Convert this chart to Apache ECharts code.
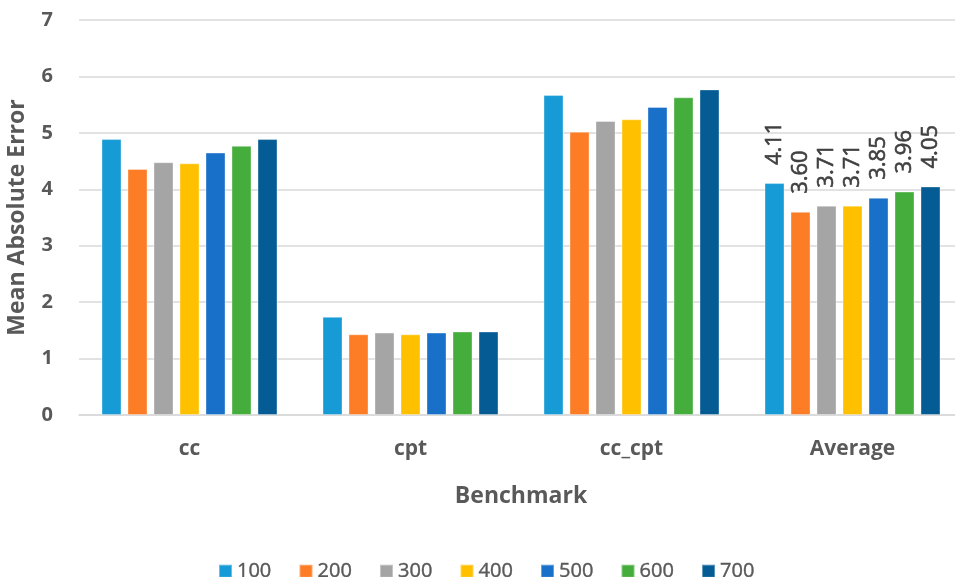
<!DOCTYPE html>
<html>
<head>
<meta charset="utf-8">
<script src="https://cdn.jsdelivr.net/npm/echarts@6/dist/echarts.min.js"></script>
<style>
  html, body { margin: 0; padding: 0; background: #ffffff; }
  #chart { width: 955px; height: 577px; }
</style>
</head>
<body>
<div id="chart"></div>
<script>
// Benchmarks on the x axis
const benchmarks = ['cc', 'cpt', 'cc_cpt', 'Average'];

// One series per setting
const seriesNames = ['100', '200', '300', '400', '500', '600', '700'];

// Mean absolute error per benchmark, one array per setting
const mae100 = [4.89, 1.74, 5.67, 4.11];
const mae200 = [4.36, 1.43, 5.02, 3.60];
const mae300 = [4.48, 1.46, 5.21, 3.71];
const mae400 = [4.46, 1.43, 5.24, 3.71];
const mae500 = [4.65, 1.46, 5.46, 3.85];
const mae600 = [4.77, 1.48, 5.63, 3.96];
const mae700 = [4.89, 1.48, 5.77, 4.05];

const seriesValues = [mae100, mae200, mae300, mae400, mae500, mae600, mae700];

const colors = ['#179bd7', '#fd7c26', '#a5a5a5', '#ffc000', '#1870c8', '#45ad3c', '#055c95'];

const textColor = '#595959';
const fontFamily = '"Open Sans", "Noto Sans", sans-serif';

const chart = echarts.init(document.getElementById('chart'));

const series = seriesNames.map((name, i) => ({
  name: name,
  type: 'bar',
  barWidth: 20,
  barGap: '30%',
  itemStyle: { color: colors[i], borderColor: 'rgba(255,255,255,0.35)', borderWidth: 1 },
  label: {
    show: true,
    position: 'top',
    rotate: 90,
    align: 'left',
    verticalAlign: 'middle',
    distance: 18,
    color: '#404040',
    textBorderColor: '#404040',
    textBorderWidth: 0.6,
    fontSize: 22,
    fontFamily: fontFamily,
    formatter: p => (p.dataIndex === benchmarks.length - 1 ? p.value.toFixed(2) : '')
  },
  data: seriesValues[i]
}));

chart.setOption({
  animation: false,
  color: colors,
  textStyle: { fontFamily: fontFamily },
  grid: { left: 79, top: 20, width: 884, height: 395, containLabel: false, outerBoundsMode: 'none' },
  legend: {
    data: seriesNames,
    left: 213,
    top: 556,
    icon: 'rect',
    itemWidth: 13,
    itemHeight: 13,
    itemGap: 27,
    textStyle: { color: textColor, fontSize: 20, fontFamily: fontFamily, textBorderColor: textColor, textBorderWidth: 0.4 }
  },
  xAxis: {
    type: 'category',
    data: benchmarks,
    name: 'Benchmark',
    nameLocation: 'middle',
    nameGap: 70,
    nameTextStyle: { color: textColor, fontSize: 23, fontWeight: 'bold', fontFamily: fontFamily },
    axisLine: { lineStyle: { color: '#d9d9d9', width: 1.5 } },
    axisTick: { show: false },
    axisLabel: { color: textColor, fontSize: 21, fontWeight: 'bold', margin: 24, fontFamily: fontFamily }
  },
  yAxis: {
    type: 'value',
    min: 0,
    max: 7,
    interval: 1,
    name: 'Mean Absolute Error',
    nameLocation: 'middle',
    nameGap: 50,
    nameTextStyle: { color: textColor, fontSize: 23, fontWeight: 'bold', fontFamily: fontFamily },
    axisLine: { show: false },
    axisTick: { show: false },
    axisLabel: { color: textColor, fontSize: 20, fontWeight: 'bold', margin: 26, fontFamily: fontFamily },
    splitLine: { lineStyle: { color: '#d9d9d9', width: 1.5 } }
  },
  series: series
});
</script>
</body>
</html>
